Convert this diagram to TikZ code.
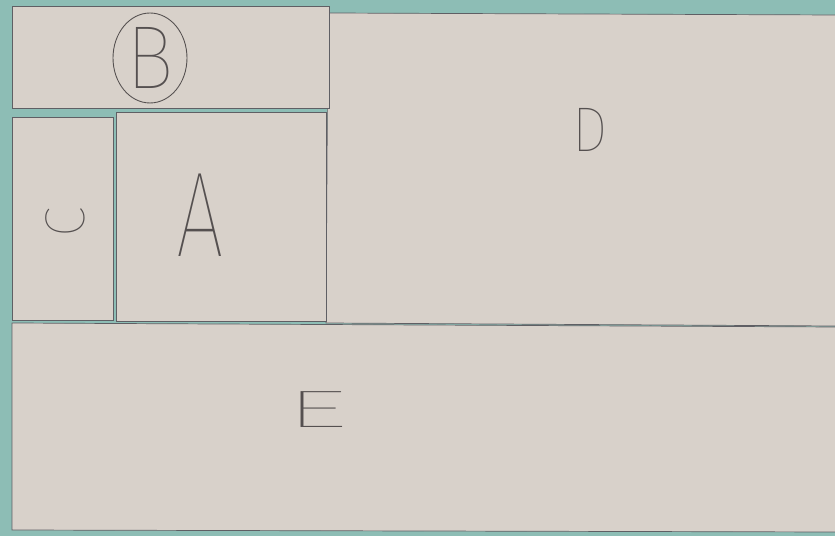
\documentclass[tikz,border=0pt]{standalone}
\usepackage{fontspec}
\newfontfamily\pencilfont{Fira Sans Thin}
\usepackage{tikz}
\usetikzlibrary{positioning}

\definecolor{wall}{RGB}{141,189,181}
\definecolor{paper}{RGB}{216,209,202}
\definecolor{edge}{RGB}{95,95,100}
\definecolor{pencil}{RGB}{85,80,80}

\begin{document}
\begin{tikzpicture}[
    x=0.02cm, y=-0.02cm,
    sheet/.style={fill=paper, draw=edge, line width=0.4pt},
    letter/.style={text=pencil, inner sep=0pt, font=\pencilfont},
    ring/.style={draw=pencil, line width=0.5pt}
]
\fill[wall] (0,0) rectangle (835,536);
\useasboundingbox (0,0) rectangle (835,536);

% sheets of paper
\draw[sheet] (328,13) -- (836,15) -- (836,326) -- (326,323) -- cycle;
\draw[sheet] (12,323) -- (836,327) -- (836,532) -- (12,530) -- cycle;
\draw[sheet] (12,6) rectangle (329,108);
\draw[sheet] (12,117) rectangle (113,320);
\draw[sheet] (116,112) rectangle (326,321);

% labels
\node[letter, font=\pencilfont\fontsize{51}{51}\selectfont, xscale=0.9] (B) at (150,58) {B};
\draw[ring] (B.center) ellipse [x radius=0.74cm, y radius=0.9cm];
\node[letter, font=\pencilfont\fontsize{32}{32}\selectfont, rotate=90] (C) at (65,222) {C};
\node[letter, font=\pencilfont\fontsize{69}{69}\selectfont, xscale=0.7] (A) at (200,215) {A};
\node[letter, font=\pencilfont\fontsize{36}{36}\selectfont, xscale=0.9] (D) at (590,130) {D};
\node[letter, font=\pencilfont\fontsize{30}{30}\selectfont, xscale=2.4] (E) at (317,410) {E};
\end{tikzpicture}
\end{document}
